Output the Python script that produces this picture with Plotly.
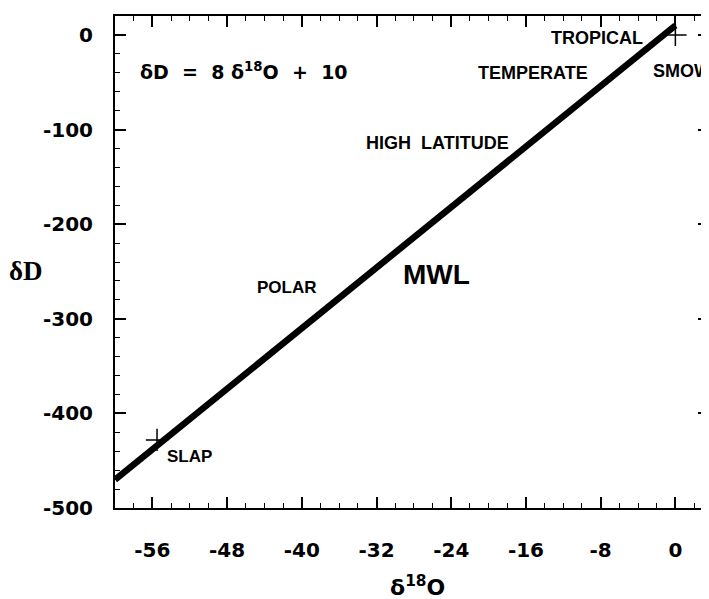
import plotly.graph_objects as go

# Meteoric water line
mwl_d18o = [-60, 0]
mwl_dD = [-470, 10]

# Reference standards
std_names = ["SMOW", "SLAP"]
std_d18o = [0, -55.5]
std_dD = [0, -428]

x_ticks = [-56, -48, -40, -32, -24, -16, -8, 0]
y_ticks = [0, -100, -200, -300, -400, -500]

# the page body adds an 8px offset; figure is sized so the plot box lands where the reference has it
W, H = 709, 599
L, R, T, B = 107, 6, 7, 99

fig = go.Figure()
fig.add_trace(go.Scatter(x=mwl_d18o, y=mwl_dD, mode="lines",
                         line=dict(color="black", width=6.5), hoverinfo="skip"))
fig.add_trace(go.Scatter(x=std_d18o, y=std_dD, mode="markers",
                         marker=dict(symbol="cross-thin", size=16,
                                     line=dict(color="black", width=1.5)),
                         text=std_names, hoverinfo="text"))

lab = dict(family="Liberation Sans, Arial, sans-serif", size=18, color="black", weight="bold")
ann = []
def add(text, x, y, font, xanchor="center"):
    ann.append(dict(text=text, x=x, y=y, xref="x", yref="y", showarrow=False,
                    xanchor=xanchor, yanchor="middle", font=font))

add("TROPICAL", -8.4, -3.7, lab)
add("TEMPERATE", -15.2, -40, lab)
add("SMOW", -2.6, -38, lab, xanchor="left")
add("HIGH  LATITUDE", -25.5, -114, lab)
add("POLAR", -41.6, -266.7, dict(lab, size=17))
add("MWL", -25.6, -253, dict(lab, size=28))
add("SLAP", -52, -446, dict(lab, size=17))
add("δD &nbsp;= &nbsp;8 δ<sup>18</sup>O &nbsp;+ &nbsp;10", -57.5, -38,
    dict(family="DejaVu Sans, sans-serif", size=19, color="black", weight="bold"),
    xanchor="left")

# axis titles
ann.append(dict(text="δ<sup>18</sup>O", x=0.51, y=-0.159, xref="paper", yref="paper",
                showarrow=False, xanchor="center", yanchor="middle",
                font=dict(family="DejaVu Sans, sans-serif", size=22, color="black", weight="bold")))
ann.append(dict(text="δD", x=-0.149, y=0.482, xref="paper", yref="paper",
                showarrow=False, xanchor="center", yanchor="middle",
                font=dict(family="Liberation Serif, Times New Roman, serif", size=27,
                          color="black", weight="bold")))

tickfont = dict(family="DejaVu Sans, sans-serif", size=20, color="black", weight="bold")
fig.update_layout(
    width=W, height=H, margin=dict(l=L, r=R, t=T, b=B),
    paper_bgcolor="white", plot_bgcolor="white", showlegend=False,
    annotations=ann,
    xaxis=dict(range=[-60, 3.6], tickvals=x_ticks, ticktext=[str(v) for v in x_ticks],
               ticks="inside", ticklen=11, tickwidth=1.5, tickcolor="black",
               minor=dict(dtick=2, tick0=0, ticks="inside", ticklen=5, tickwidth=1.2, tickcolor="black"),
               showline=True, linecolor="black", linewidth=2, mirror="ticks",
               showgrid=False, zeroline=False, tickfont=tickfont, ticklabelstandoff=23),
    yaxis=dict(range=[-500, 20], tickvals=y_ticks, ticktext=[str(v) for v in y_ticks],
               ticks="inside", ticklen=11, tickwidth=1.5, tickcolor="black",
               minor=dict(dtick=20, tick0=0, ticks="inside", ticklen=5, tickwidth=1.2, tickcolor="black"),
               showline=True, linecolor="black", linewidth=2, mirror="ticks",
               showgrid=False, zeroline=False, tickfont=tickfont, ticklabelstandoff=16),
)
fig.write_html("out.html")
